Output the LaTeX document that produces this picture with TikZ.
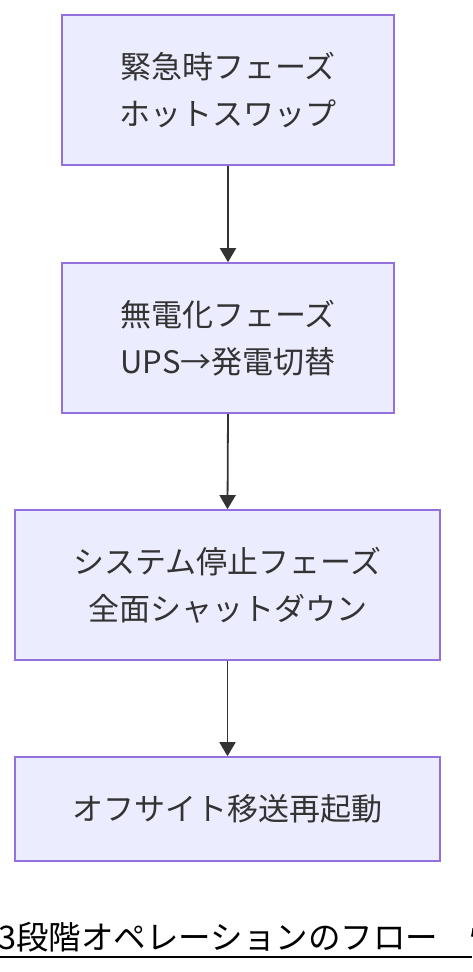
\documentclass[tikz,border=0pt]{standalone}
\usepackage{fontspec}
\setmainfont{Noto Sans CJK JP}
\usetikzlibrary{arrows.meta}
\definecolor{boxfill}{HTML}{ECECFF}
\definecolor{boxline}{HTML}{9370DB}
\definecolor{ink}{HTML}{333333}
\tikzset{
  x=1pt,y=1pt,
  phase/.style={draw=boxline,fill=boxfill,line width=1.6pt,minimum height=150pt,
    text=ink,align=center,font=\fontsize{31}{47}\selectfont,inner sep=0pt},
  flow/.style={draw=ink,line width=1.8pt,-{Triangle[length=14pt,width=16pt]}},
}
\begin{document}
\begin{tikzpicture}
\useasboundingbox (0,0) rectangle (472,-972);
\fill[white] (0,0) rectangle (472,-972);
\node[phase,minimum width=332pt] (a) at (228,-90) {緊急時フェーズ\\ホットスワップ};
\node[phase,minimum width=332pt] (b) at (228,-338) {無電化フェーズ\\UPS→発電切替};
\node[phase,minimum width=425pt] (c) at (227.5,-585) {システム停止フェーズ\\全面シャットダウン};
\node[phase,minimum width=425pt,minimum height=104pt] (d) at (227.5,-809) {オフサイト移送再起動};
\draw[flow] (a.south) -- (b.north);
\draw[flow] (b.south) -- (c.north);
\draw[flow] (c.south) -- (d.north);
\begin{scope}
\clip (0,0) rectangle (472,-972);
\node[anchor=base west,inner sep=0pt,text=black,font=\fontsize{32.5}{32.5}\selectfont] (t) at (-2,-949) {3段階オペレーションのフロー　情};
\coordinate (ul) at (0,-957);
\draw[black,line width=1.8pt] (ul) -- ++(472,0);
\end{scope}
\end{tikzpicture}
\end{document}
